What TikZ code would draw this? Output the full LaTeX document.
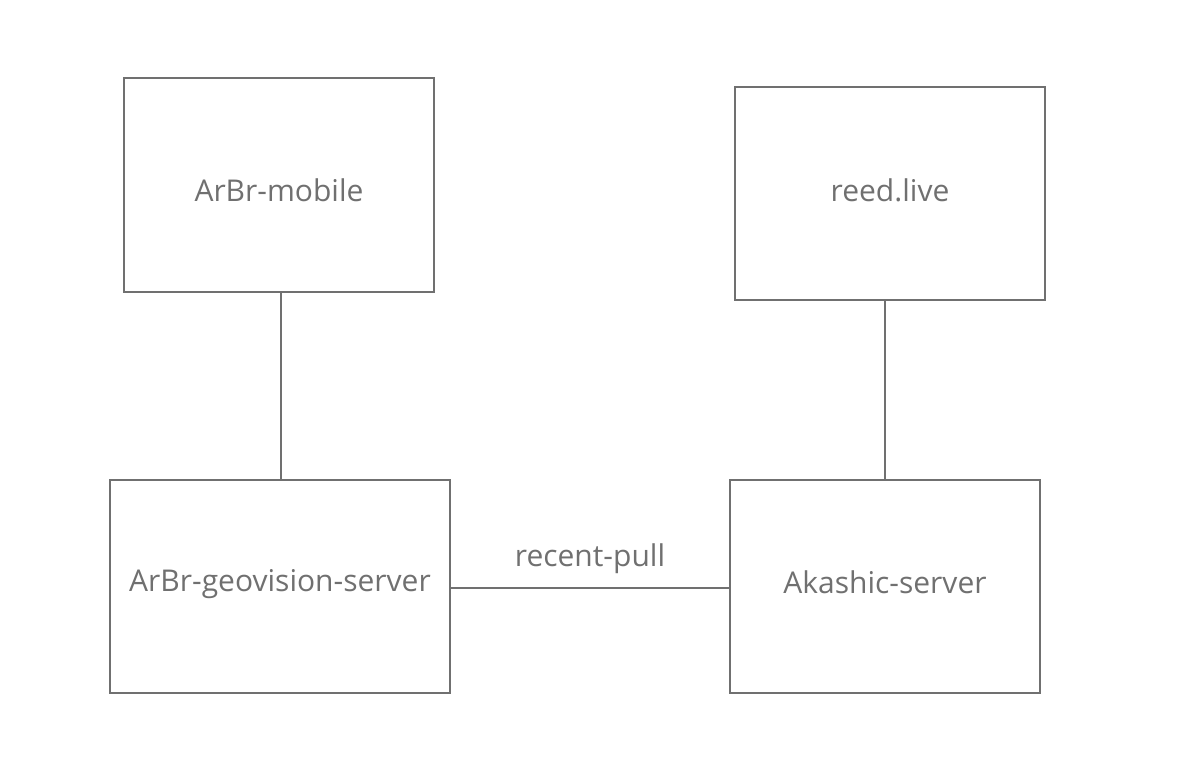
\documentclass[tikz,border=0pt]{standalone}
\usepackage{fontspec}
\setmainfont{Open Sans}
\definecolor{ink}{HTML}{707070}
\begin{document}
\begin{tikzpicture}[x=1pt,y=-1pt,
  box/.style={draw=ink,line width=2pt,minimum width=#1,inner sep=0pt},
  link/.style={draw=ink,line width=2pt},
  lbl/.style={text=ink,font=\fontsize{30}{34}\selectfont}]
\useasboundingbox (0,0) rectangle (1184,780);
\node[box=310pt,minimum height=214pt,label={[lbl,yshift=-5pt]center:ArBr-mobile}] (mobile) at (279,185) {};
\node[box=310pt,minimum height=213pt,label={[lbl,yshift=3pt]center:reed.live}] (reed) at (890,193.5) {};
\node[box=340pt,minimum height=213pt,label={[lbl,yshift=2pt]center:ArBr-geovision-server}] (geo) at (280,586.5) {};
\node[box=310pt,minimum height=213pt,label={[lbl,yshift=4pt]center:Akashic-server}] (aka) at (885,586.5) {};
\draw[link] ([xshift=2pt]mobile.south) -- ([xshift=2pt]mobile.south |- geo.north);
\draw[link] (aka.north) -- (aka.north |- reed.south);
\draw[link] ([yshift=-1.5pt]geo.east) -- node[lbl,above=10pt] (rp) {recent-pull} ([yshift=-1.5pt]aka.west);
\end{tikzpicture}
\end{document}
